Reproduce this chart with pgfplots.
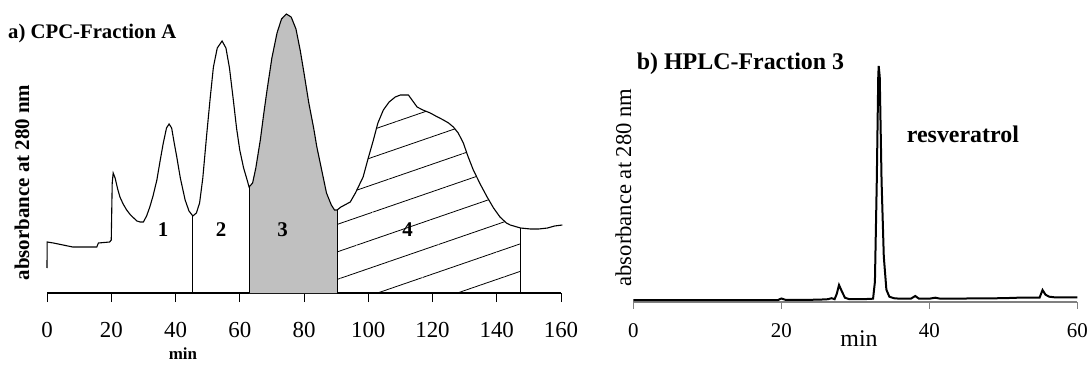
\documentclass[border=0pt]{standalone}
\usepackage{fontspec}
\setmainfont{Liberation Serif}
\usepackage{pgfplots}
\usepackage{pgfplotstable}
\pgfplotsset{compat=1.18}
\usepgfplotslibrary{fillbetween}
\usetikzlibrary{patterns.meta}
\definecolor{fillgray}{RGB}{192,192,192}
\definecolor{axgray}{RGB}{128,128,128}

\pgfplotstableread{
x y
0 25
0.05 51
2 50
5 48
8 46
12 46
15.5 46
16 50
19.5 51
20 53
20.3 110
20.6 120
21.2 115
22 104
22.7 96
23.7 89
24.8 83
26 78
27 75
28 72
29 71
30 71
31 77
32 86
33 97
34.2 113
35.2 132
36.2 150
37.2 165
38 169
38.8 165
39.6 150
40.4 136
41.5 115
43 93
44.2 82
45.4 77
46.5 80
47.5 90
48.5 115
49.7 158
50.8 195
51.8 226
53 245
54.5 252
55.7 245
56.8 225
58 193
59 165
60 143
61.2 125
62.3 113
62.9 106
64 110
65 125
66.4 153
67.5 180
68.5 203
70 235
71.6 260
73 274
74.5 279
76 276
77.5 264
78.8 243
80 220
81.5 190
83 165
84 146
85.5 123
87 100
88.5 88
89.5 83
90.3 83
91.5 86
94.4 91
96 100
98.4 116
100 135
101.6 153
103 170
104.7 183
106.5 191
108.4 196
110 198
112.5 198
115.2 186
117 183
119.3 180
121 177
123.4 173
125 170
126.5 166
128 160
129.6 150
131 137
132.7 123
135 108
137 96
139 85
141 76
143 70
144.2 68
147.4 65
150.5 64
153 64
155.8 65
158 67
160.4 68
}\cpc

\pgfplotstableread{
x y
0 1.5
10 1.5
19.5 1.5
20 3.2
20.6 1.8
22 1.8
25 2
26.3 2.5
26.8 3.5
27.2 2.5
27.5 8
27.8 16.7
28.2 10
28.6 4
29.2 2.5
31 2.5
32.4 3
32.65 20
32.9 120
33.1 225
33.16 235.7
33.3 225
33.55 120
33.85 45
34.2 12
34.6 5
35.2 3.5
36 3
37.5 3
38.1 5.7
38.6 3
40 3
40.8 4
41.5 3
45 3.2
50 3.5
52 4
54.9 4
55.3 11.7
55.7 7
56.2 5
57 4.3
60 4.3
}\hplc

\begin{document}
\begin{tikzpicture}[x=1bp,y=1bp]

% ---------- panel a ----------
\begin{axis}[
  at={(47bp,75bp)}, anchor=south west,
  scale only axis, width=514bp, height=280bp,
  xmin=0, xmax=160, ymin=0, ymax=280,
  hide y axis, axis x line*=bottom, clip=false,
  xtick={0,20,...,160}, tick align=outside,
  major tick length=9bp,
  x axis line style={line width=1.6bp, black},
  tick style={line width=1bp, black},
  x tick label style={font=\fontsize{23}{23}\selectfont, inner sep=0pt, yshift=-20bp},
  /pgf/number format/assume math mode=true,
]
\addplot[draw=none, name path=base] coordinates {(0,0) (160,0)};
\addplot[draw=none, name path=curve] table {\cpc};
\addplot[fill=fillgray, draw=none] fill between[of=curve and base, soft clip={domain=62.9:90.3}];
\addplot[draw=none, pattern={Lines[angle=19,distance=26bp,line width=0.8bp]}] fill between[of=curve and base, soft clip={domain=90.3:147.4}];
\addplot[black, line width=1.1bp] table {\cpc};
\addplot[black, line width=0.9bp] coordinates {(45.4,0) (45.4,77)};
\addplot[black, line width=0.9bp] coordinates {(62.9,0) (62.9,106)};
\addplot[black, line width=0.9bp] coordinates {(90.3,0) (90.3,83)};
\addplot[black, line width=0.9bp] coordinates {(147.4,0) (147.4,65)};
\end{axis}

% ---------- panel b ----------
\begin{axis}[
  at={(633.3bp,66.3bp)}, anchor=south west,
  scale only axis, width=444bp, height=236bp,
  xmin=0, xmax=60, ymin=0, ymax=236,
  hide y axis, axis x line*=bottom, clip=false,
  xtick={0,20,40,60}, tick align=outside,
  major tick length=7bp,
  x axis line style={line width=1.8bp, axgray},
  tick style={line width=1bp, axgray},
  x tick label style={font=\fontsize{21}{21}\selectfont, inner sep=0pt, yshift=-15bp},
  /pgf/number format/assume math mode=true,
]
\addplot[black, line width=2bp] table {\hplc};
\end{axis}

% ---------- texts ----------
\node[anchor=base west, inner sep=0pt, font=\bfseries\fontsize{20.8}{20.8}\selectfont] at (8,330) {a) CPC-Fraction A};
\node[rotate=90, inner sep=0pt, font=\bfseries\fontsize{21}{21}\selectfont] at (22,185.5) {absorbance at 280 nm};
\node[inner sep=0pt, font=\bfseries\fontsize{17}{17}\selectfont] at (183,14.5) {min};
\node[inner sep=0pt, font=\bfseries\fontsize{21}{21}\selectfont] at (163,138) {1};
\node[inner sep=0pt, font=\bfseries\fontsize{21}{21}\selectfont] at (221,138) {2};
\node[inner sep=0pt, font=\bfseries\fontsize{21}{21}\selectfont] at (282.5,138) {3};
\node[inner sep=0pt, font=\bfseries\fontsize{21}{21}\selectfont] at (407.5,138) {4};

\node[anchor=base west, inner sep=0pt, font=\bfseries\fontsize{24}{24}\selectfont] at (636.7,298.7) {b) HPLC-Fraction 3};
\node[anchor=base west, inner sep=0pt, font=\bfseries\fontsize{24}{24}\selectfont] at (906.7,225.3) {resveratrol};
\node[rotate=90, inner sep=0pt, font=\fontsize{22.7}{22.7}\selectfont] at (623.3,180.5) {absorbance at 280 nm};
\node[anchor=base, inner sep=0pt, font=\fontsize{24}{24}\selectfont] at (859,22) {min};

\pgfresetboundingbox
\useasboundingbox (0,0) rectangle (1091,368);
\end{tikzpicture}
\end{document}
